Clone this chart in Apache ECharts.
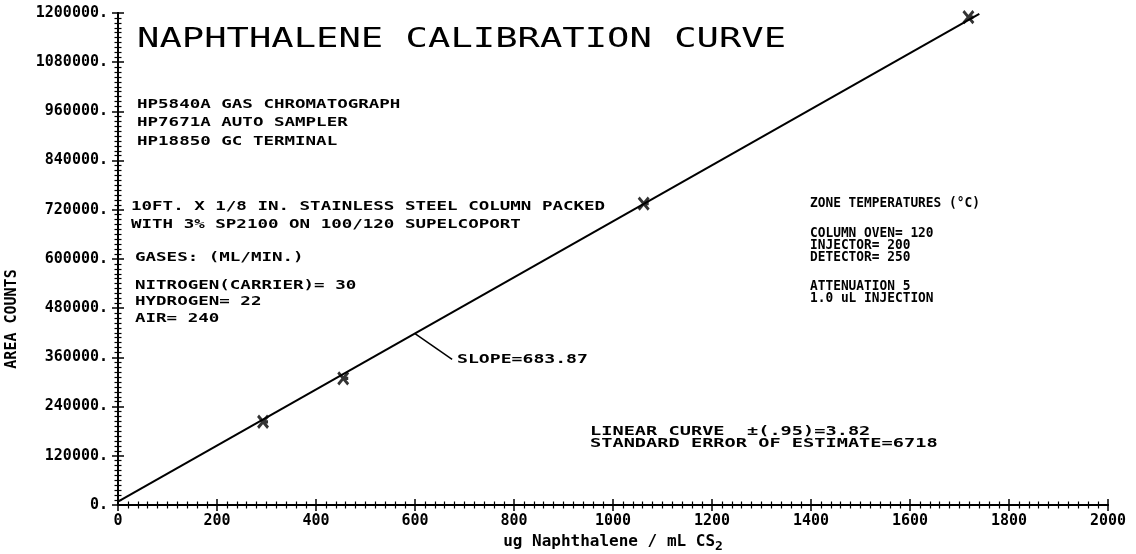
<!DOCTYPE html>
<html>
<head>
<meta charset="utf-8">
<script src="https://cdn.jsdelivr.net/npm/echarts@6/dist/echarts.min.js"></script>
<style>
    html, body { margin: 0; padding: 0; background: #fff; }
    #chart { width: 1136px; height: 554px; }
</style>
</head>
<body>
<div id="chart"></div>
<script>
// calibration points (ug naphthalene / mL CS2  vs  area counts)
const concX = [293, 455, 1062, 1718];
const areaY = [203000, 309000, 735000, 1190000];
// fitted line ends
const fitX = [0, 1740];
const fitY = [8000, 1198000];
// leader line to the slope note
const leaderX = [600, 675];
const leaderY = [418000, 355000];

const xTicks = [0, 200, 400, 600, 800, 1000, 1200, 1400, 1600, 1800, 2000];
const yTicks = [0, 120000, 240000, 360000, 480000, 600000, 720000, 840000, 960000, 1080000, 1200000];

const MONO = 'DejaVu Sans Mono';

const zip = (a, b) => a.map((v, i) => [v, b[i]]);

const myChart = echarts.init(document.getElementById('chart'));

const axisCommon = {
    type: 'value',
    axisLine: { show: true, lineStyle: { color: '#000', width: 2 } },
    axisTick: { show: true, inside: true, length: 6, lineStyle: { color: '#000', width: 1.5 } },
    minorTick: { show: true, splitNumber: 10, length: 3.5, lineStyle: { color: '#000', width: 1.2 } },
    splitLine: { show: false },
    minorSplitLine: { show: false }
};

const note = (x, y, text, lineHeight, scaleX, size, weight) => ({
    type: 'text',
    x: x,
    y: y,
    scaleX: scaleX,
    silent: true,
    style: {
        text: text,
        font: (weight || 'bold') + ' ' + (size || 12.5) + 'px ' + MONO,
        fill: '#000',
        lineHeight: lineHeight || 14,
        verticalAlign: 'top',
        align: 'left'
    }
});

const option = {
    backgroundColor: '#fff',
    animation: false,
    grid: { left: 118, right: 28, top: 13, bottom: 49, containLabel: false, outerBoundsMode: 'none' },
    xAxis: [
        Object.assign({}, axisCommon, {
            position: 'bottom',
            min: xTicks[0],
            max: xTicks[xTicks.length - 1],
            interval: xTicks[1] - xTicks[0],
            axisLabel: {
                margin: 9, color: '#000', fontFamily: MONO, fontWeight: 'bold', fontSize: 15,
                formatter: v => String(v)
            },
            name: '{n|ug Naphthalene / mL CS}{s|2}',
            nameLocation: 'middle',
            nameGap: 24,
            nameTextStyle: {
                rich: {
                    n: { fontFamily: MONO, fontWeight: 'bold', fontSize: 16, color: '#000' },
                    s: { fontFamily: MONO, fontWeight: 'bold', fontSize: 13, color: '#000', padding: [10, 0, 0, 0] }
                }
            }
        }),
        Object.assign({}, axisCommon, {
            position: 'top',
            min: xTicks[0],
            max: xTicks[xTicks.length - 1],
            interval: xTicks[1] - xTicks[0],
            axisLabel: { show: false }
        })
    ],
    yAxis: [
        Object.assign({}, axisCommon, {
            position: 'left',
            min: yTicks[0],
            max: yTicks[yTicks.length - 1],
            interval: yTicks[1] - yTicks[0],
            axisLabel: {
                margin: 10, color: '#000', fontFamily: MONO, fontWeight: 'bold', fontSize: 15,
                formatter: v => v + '.'
            },
            name: 'AREA COUNTS',
            nameLocation: 'middle',
            nameGap: 98,
            nameTextStyle: { fontFamily: MONO, fontWeight: 'bold', fontSize: 15, color: '#000', padding: [0, 120, 0, 0] }
        }),
        Object.assign({}, axisCommon, {
            position: 'right',
            min: yTicks[0],
            max: yTicks[yTicks.length - 1],
            interval: yTicks[1] - yTicks[0],
            axisLabel: { show: false }
        })
    ],
    series: [
        {
            name: 'fit',
            type: 'line',
            data: zip(fitX, fitY),
            showSymbol: false,
            symbol: 'none',
            lineStyle: { color: '#000', width: 2 },
            z: 2
        },
        {
            name: 'standards',
            type: 'scatter',
            data: zip(concX, areaY),
            symbol: 'path://M0,0L10,12M10,0L0,12M5,6L10,6',
            symbolSize: [10, 12],
            itemStyle: { color: '#000', borderColor: '#000', borderWidth: 3 },
            z: 3
        },
        {
            name: 'leader',
            type: 'line',
            data: zip(leaderX, leaderY),
            showSymbol: false,
            symbol: 'none',
            lineStyle: { color: '#000', width: 1.5 },
            z: 2
        }
    ],
    graphic: [
        note(137, 22, 'NAPHTHALENE CALIBRATION CURVE', 36, 1.43, 26, 'normal'),
        note(137, 95, 'HP5840A GAS CHROMATOGRAPH\nHP7671A AUTO SAMPLER\nHP18850 GC TERMINAL', 18.5, 1.4),
        note(131, 198, '10FT. X 1/8 IN. STAINLESS STEEL COLUMN PACKED\nWITH 3% SP2100 ON 100/120 SUPELCOPORT', 18, 1.4),
        note(135, 249, 'GASES: (ML/MIN.)', 18, 1.4),
        note(135, 277, 'NITROGEN(CARRIER)= 30\nHYDROGEN= 22\nAIR= 240', 16.5, 1.4),
        note(457, 352, 'SLOPE=683.87', 16, 1.45),
        note(810, 195, 'ZONE TEMPERATURES (\u00B0C)', 16, 0.95, 13.5),
        note(810, 227, 'COLUMN OVEN= 120\nINJECTOR= 200\nDETECTOR= 250', 12, 0.95, 13.5),
        note(810, 280, 'ATTENUATION 5\n1.0 uL INJECTION', 12, 0.95, 13.5),
        note(590, 426, 'LINEAR CURVE  \u00B1(.95)=3.82\nSTANDARD ERROR OF ESTIMATE=6718', 12, 1.49)
    ]
};

myChart.setOption(option);
</script>
</body>
</html>
